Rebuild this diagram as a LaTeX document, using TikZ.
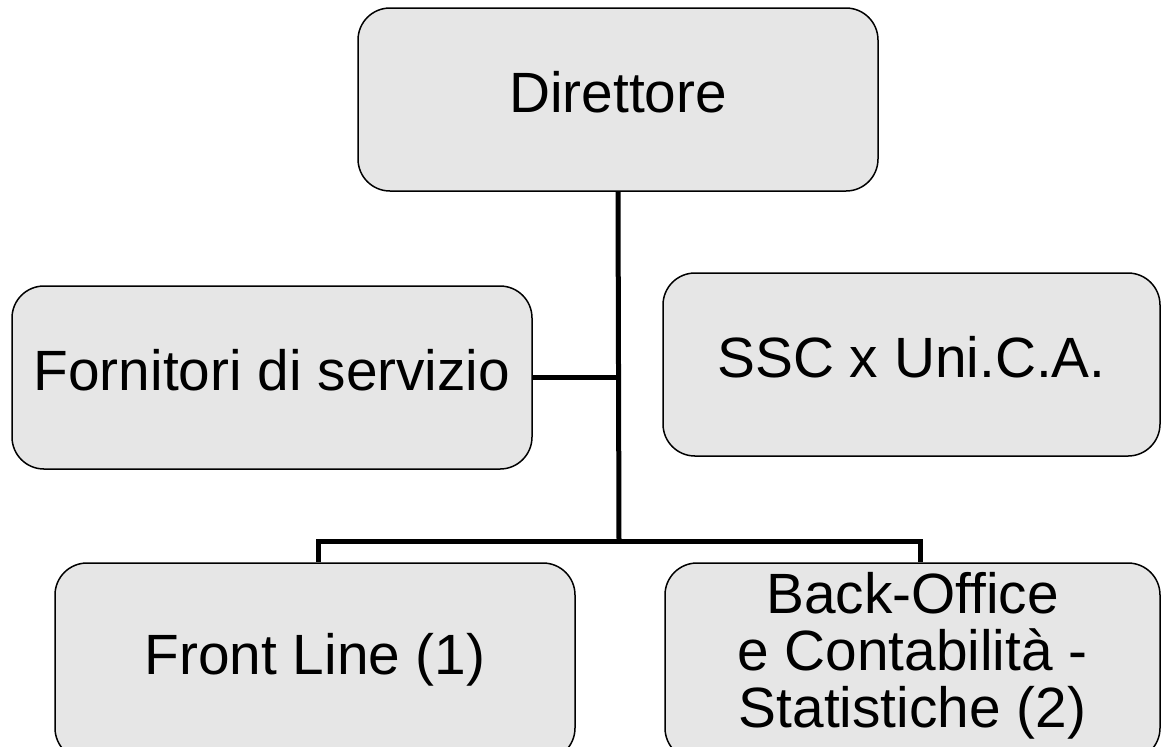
\documentclass[tikz,border=0pt]{standalone}
\usepackage{fontspec}
\setmainfont{Liberation Sans}
\usetikzlibrary{positioning}
\definecolor{boxgray}{HTML}{E6E6E6}

\begin{document}
\begin{tikzpicture}[
  x=0.5pt,y=-0.5pt,
  box/.style={draw,rounded corners=16pt,fill=boxgray,align=center,line width=0.75pt,
    minimum width=260pt,minimum height=91.5pt,inner sep=0pt,
    font=\fontsize{28.4}{28.5}\selectfont},
  lift/.style={text depth=8pt},
  low/.style={minimum height=98.5pt},
  link/.style={line width=2.5pt}
]
\useasboundingbox (0,0) rectangle (1162,746);
\node[box,lift] (dir) at (618,99.5) {Direttore};
\node[box,lift] (forn) at (272,377.5) {Fornitori di servizio};
\node[box,lift,minimum width=248.5pt] (ssc) at (911.5,364.5) {SSC x Uni.C.A.};
\node[box,lift,low] (front) at (315,661.5) {Front Line (1)};
\node[box,low,minimum width=247.5pt,text depth=12pt] (back) at (912.5,661.5) {Back-Office\\e Contabilità -\\Statistiche (2)};
\coordinate (bus) at (619,541);
\draw[link] (dir.south) -- (bus);
\draw[link] (forn.east) -- (forn.east -| dir.south);
\draw[link] ([xshift=1.5pt]front.north) |- (bus) -| ([xshift=4pt]back.north);
\end{tikzpicture}
\end{document}
